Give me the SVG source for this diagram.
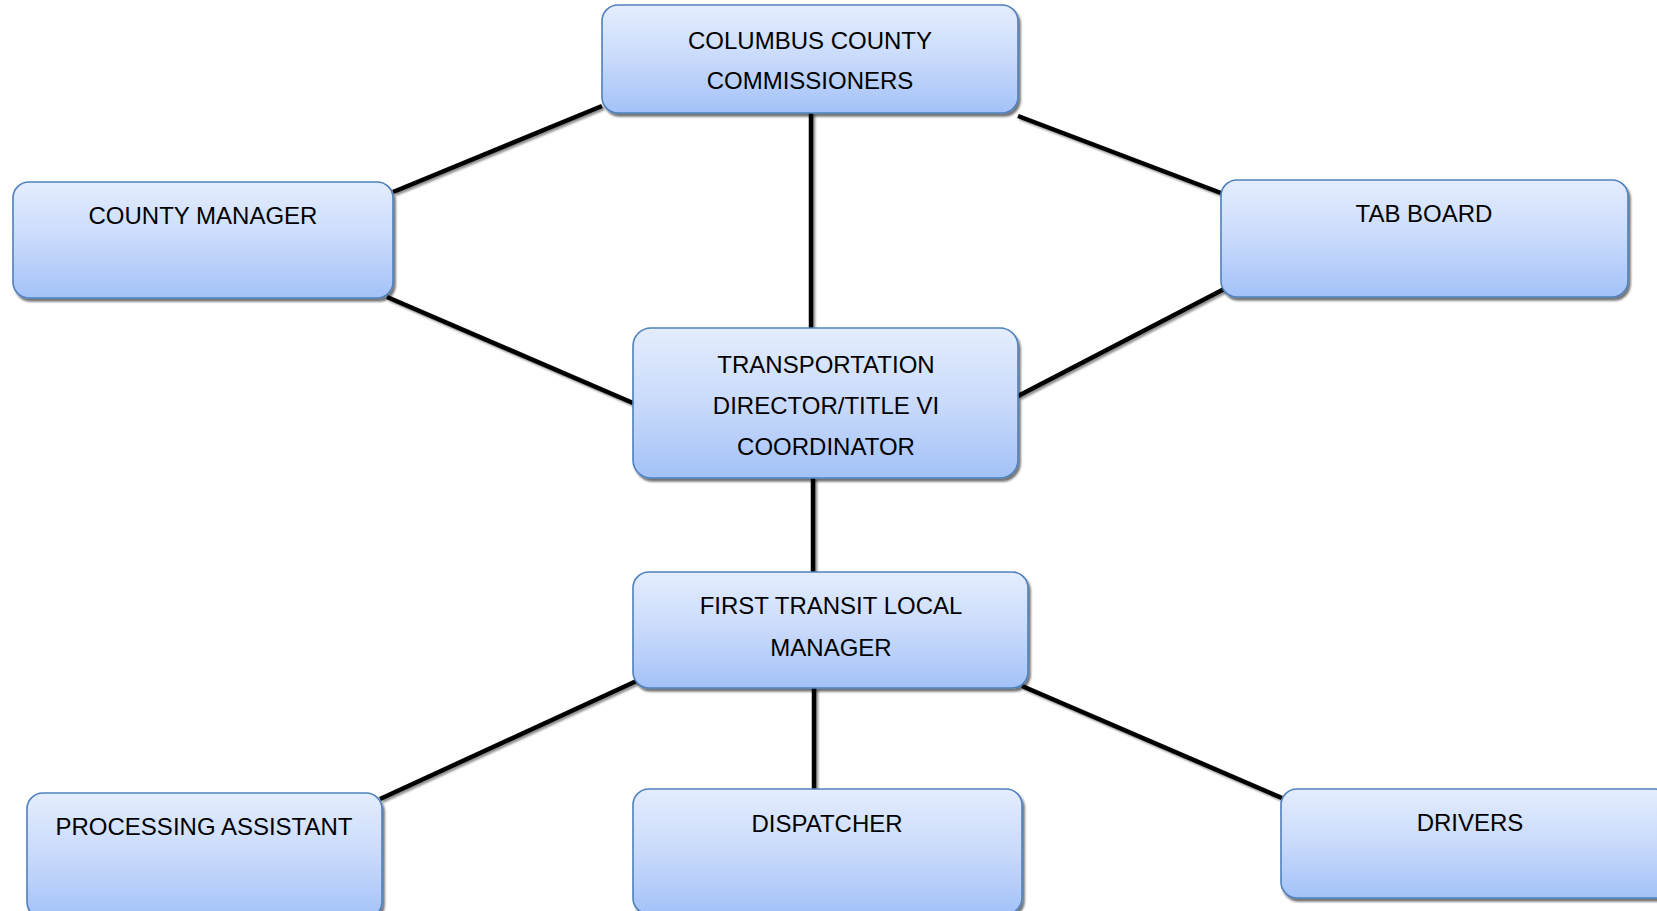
<svg xmlns="http://www.w3.org/2000/svg" width="1657" height="911" viewBox="0 0 1657 911">
<defs>
<linearGradient id="g" x1="0" y1="0" x2="0" y2="1">
<stop offset="0" stop-color="#e4edfd"/>
<stop offset="0.5" stop-color="#c9dafb"/>
<stop offset="1" stop-color="#a3c2f8"/>
</linearGradient>
<filter id="sh" x="-5%" y="-5%" width="110%" height="120%">
<feGaussianBlur in="SourceAlpha" stdDeviation="0.8"/>
<feOffset dx="2" dy="3" result="o"/>
<feComponentTransfer><feFuncA type="linear" slope="0.55"/></feComponentTransfer>
<feMerge><feMergeNode/><feMergeNode in="SourceGraphic"/></feMerge>
</filter>
<filter id="shl" filterUnits="userSpaceOnUse" x="0" y="0" width="1657" height="911">
<feGaussianBlur in="SourceAlpha" stdDeviation="0.8"/>
<feOffset dx="2" dy="2" result="o"/>
<feComponentTransfer><feFuncA type="linear" slope="0.45"/></feComponentTransfer>
<feMerge><feMergeNode/><feMergeNode in="SourceGraphic"/></feMerge>
</filter>
</defs>
<style>
.box{fill:url(#g);stroke:#4f81bd;stroke-width:1.6;filter:url(#sh)}
.t{font-family:"Liberation Sans",Arial,sans-serif;font-size:24px;fill:#000;text-anchor:middle}
.c{stroke:#000;stroke-width:4.5;fill:none}
</style>
<rect width="1657" height="911" fill="#fff"/>
<g id="connectors" filter="url(#shl)">
<line class="c" x1="602" y1="106" x2="393" y2="192"/>
<line class="c" x1="811" y1="113" x2="811" y2="330"/>
<line class="c" x1="1018" y1="116" x2="1221" y2="193"/>
<line class="c" x1="387" y1="297" x2="633" y2="403"/>
<line class="c" x1="1228" y1="287" x2="1018" y2="396"/>
<line class="c" x1="813" y1="478" x2="813" y2="574"/>
<line class="c" x1="643" y1="678" x2="380" y2="799"/>
<line class="c" x1="814" y1="688" x2="814" y2="791"/>
<line class="c" x1="1022" y1="686" x2="1282" y2="798"/>
</g>
<g id="commissioners">
<rect class="box" x="602" y="5" width="416" height="108" rx="16"/>
<text class="t" x="810" y="49">COLUMBUS COUNTY</text>
<text class="t" x="810" y="89">COMMISSIONERS</text>
</g>
<g id="county-manager">
<rect class="box" x="13" y="182" width="380" height="116" rx="16"/>
<text class="t" x="203" y="224">COUNTY MANAGER</text>
</g>
<g id="tab-board">
<rect class="box" x="1221" y="180" width="407" height="117" rx="16"/>
<text class="t" x="1424" y="222">TAB BOARD</text>
</g>
<g id="transportation-director">
<rect class="box" x="633" y="328" width="385" height="150" rx="18"/>
<text class="t" x="826" y="373">TRANSPORTATION</text>
<text class="t" x="826" y="414">DIRECTOR/TITLE VI</text>
<text class="t" x="826" y="455">COORDINATOR</text>
</g>
<g id="first-transit">
<rect class="box" x="633" y="572" width="395" height="116" rx="16"/>
<text class="t" x="831" y="614">FIRST TRANSIT LOCAL</text>
<text class="t" x="831" y="656">MANAGER</text>
</g>
<g id="processing-assistant">
<rect class="box" x="27" y="793" width="355" height="125" rx="16"/>
<text class="t" x="204" y="835">PROCESSING ASSISTANT</text>
</g>
<g id="dispatcher">
<rect class="box" x="633" y="789" width="389" height="125" rx="16"/>
<text class="t" x="827" y="832">DISPATCHER</text>
</g>
<g id="drivers">
<rect class="box" x="1281" y="789" width="390" height="109" rx="16"/>
<text class="t" x="1470" y="831">DRIVERS</text>
</g>
</svg>
